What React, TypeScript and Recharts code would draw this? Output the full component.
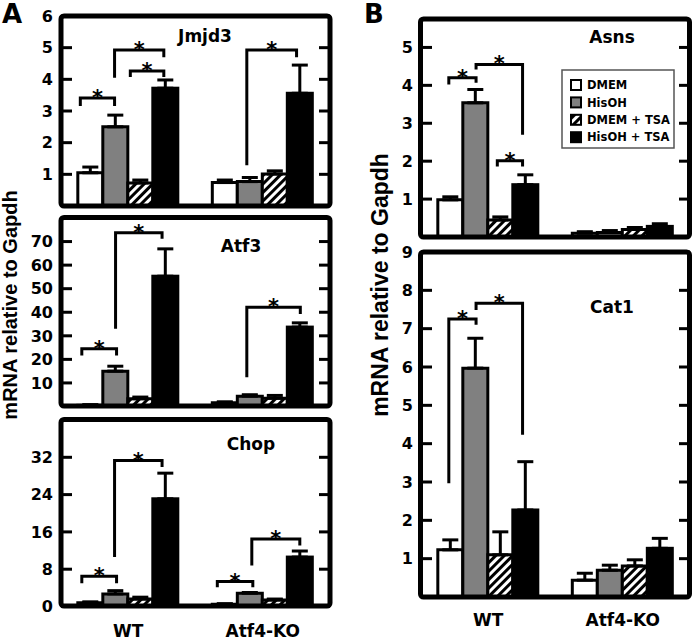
import React from 'react';
import { BarChart, Bar, XAxis, YAxis, ErrorBar } from 'recharts';

const groups = ['WT', 'Atf4-KO'];
const seriesNames = ['DMEM', 'HisOH', 'DMEM + TSA', 'HisOH + TSA'];
const seriesKeys = ['s0', 's1', 's2', 's3'];

// means per group (WT, Atf4-KO), series order as above; errs = upward error length
const jmjd3Means = [[1.05, 2.5, 0.73, 3.72], [0.74, 0.77, 1.01, 3.56]];
const jmjd3Errs = [[0.18, 0.37, 0.09, 0.26], [0.08, 0.13, 0.1, 0.89]];
const atf3Means = [[0.5, 15.0, 3.3, 55.3], [1.6, 4.4, 3.5, 33.7]];
const atf3Errs = [[0.3, 2.1, 0.7, 11.6], [0.4, 0.6, 1.2, 1.8]];
const chopMeans = [[0.8, 2.7, 1.6, 23.1], [0.5, 2.85, 1.4, 10.6]];
const chopErrs = [[0.2, 0.7, 0.4, 5.5], [0.1, 0.15, 0.2, 1.3]];
const asnsMeans = [[0.98, 3.54, 0.45, 1.38], [0.1, 0.12, 0.2, 0.28]];
const asnsErrs = [[0.08, 0.35, 0.08, 0.26], [0.04, 0.05, 0.05, 0.07]];
const cat1Means = [[1.23, 5.97, 1.1, 2.27], [0.44, 0.7, 0.81, 1.27]];
const cat1Errs = [[0.26, 0.78, 0.6, 1.26], [0.18, 0.13, 0.16, 0.26]];

const jmjd3Ticks = [1, 2, 3, 4, 5, 6];
const atf3Ticks = [10, 20, 30, 40, 50, 60, 70];
const chopTicks = [0, 8, 16, 24, 32];
const asnsTicks = [1, 2, 3, 4, 5];
const cat1Ticks = [1, 2, 3, 4, 5, 6, 7, 8, 9];

// significance brackets: group index, legs in bar slots (0..4 across the group), heights in data units
type Bracket = { group: number; from: number; to: number; top: number; l: number; r: number };
const jmjd3Brackets: Bracket[] = [
  { group: 0, from: 0.1, to: 1.47, top: 3.41, l: 3.16, r: 3.16 },
  { group: 0, from: 1.47, to: 3.44, top: 4.93, l: 4.05, r: 4.7 },
  { group: 0, from: 2.1, to: 3.44, top: 4.26, l: 4.07, r: 4.07 },
  { group: 1, from: 1.38, to: 3.37, top: 4.93, l: 1.29, r: 4.7 },
];
const atf3Brackets: Bracket[] = [
  { group: 0, from: 0.16, to: 1.55, top: 24.5, l: 21.6, r: 21.6 },
  { group: 0, from: 1.51, to: 3.37, top: 73.7, l: 33, r: 71.2 },
  { group: 1, from: 1.38, to: 3.52, top: 42.1, l: 12.4, r: 39.3 },
];
const chopBrackets: Bracket[] = [
  { group: 0, from: 0.16, to: 1.55, top: 6.5, l: 5.0, r: 5.0 },
  { group: 0, from: 1.47, to: 3.37, top: 31.3, l: 10.6, r: 29.9 },
  { group: 1, from: 0.2, to: 1.62, top: 5.36, l: 4.14, r: 4.14 },
  { group: 1, from: 1.58, to: 3.5, top: 14.5, l: 8.8, r: 13.1 },
];
const asnsBrackets: Bracket[] = [
  { group: 0, from: 0.44, to: 1.53, top: 4.2, l: 4.02, r: 4.07 },
  { group: 0, from: 1.53, to: 3.39, top: 4.55, l: 4.42, r: 2.7 },
  { group: 0, from: 2.38, to: 3.39, top: 2.01, l: 1.86, r: 1.86 },
];
const cat1Brackets: Bracket[] = [
  { group: 0, from: 0.44, to: 1.53, top: 7.25, l: 2.97, r: 7.1 },
  { group: 0, from: 1.53, to: 3.39, top: 7.66, l: 7.49, r: 4.23 },
];

const FONT = 'DejaVu Sans';
const fills = ['#fff', '#808080', 'url(#hatch)', '#000'];
const AXW = 40;
const PAD = 8;

function makeData(means: number[][], errs: number[][]) {
  return groups.map((g, i) => {
    const row: any = { group: g };
    seriesKeys.forEach((k, j) => {
      row[k] = means[i][j];
      row['e' + j] = [0, errs[i][j]];
    });
    return row;
  });
}

const lastShape = (brackets: Bracket[]) => (props: any) => {
  const { x, y, width, height, payload } = props;
  const v = payload.s3;
  const base = y + height;
  const k = height / v;
  const Y = (val: number) => base - val * k;
  const left = x - 3 * width;
  const X = (s: number) => left + s * width;
  const gi = groups.indexOf(payload.group);
  return (
    <g>
      <rect x={x} y={y} width={width} height={height} fill="#000" stroke="#000" strokeWidth={3} />
      {brackets.filter((b) => b.group === gi).map((b, i) => (
        <g key={i}>
          <path d={`M${X(b.from)},${Y(b.l)}V${Y(b.top)}H${X(b.to)}V${Y(b.r)}`} fill="none" stroke="#000" strokeWidth={3} />
          <text x={(X(b.from) + X(b.to)) / 2} y={Y(b.top) + 7} textAnchor="middle" fontFamily={FONT} fontWeight="bold" fontSize={21}>*</text>
        </g>
      ))}
    </g>
  );
};

type PanelProps = {
  means: number[][]; errs: number[][]; brackets: Bracket[];
  top: number; ticks: number[]; x: number; y: number; w: number; h: number; showX?: boolean; xdy?: number;
};

function Panel({ means, errs, brackets, top, ticks, x, y, w, h, showX, xdy = 29 }: PanelProps) {
  const data = makeData(means, errs);
  const xh = showX ? 34 : 0;
  return (
    <div style={{ position: 'absolute', left: x - AXW, top: y - PAD }}>
      <BarChart width={AXW + w + PAD} height={PAD + h + xh} data={data}
        margin={{ top: PAD, right: PAD, left: 0, bottom: 0 }} barCategoryGap="12.5%" barGap={0}>
        <XAxis dataKey="group" hide={!showX} height={xh} axisLine={false} tickLine={false} tickSize={0} tickMargin={0}
          tick={(p: any) => (
            <text x={p.x} y={p.y + xdy} textAnchor="middle" fontFamily={FONT} fontWeight="bold" fontSize={17}>{p.payload.value}</text>
          )} />
        <YAxis width={AXW} domain={[0, top]} ticks={ticks} interval={0} allowDataOverflow axisLine={false} tickLine={false}
          tickSize={0} tickMargin={0}
          tick={(p: any) => (
            <g>
              <line x1={p.x} x2={p.x + 11} y1={p.y} y2={p.y} stroke="#000" strokeWidth={3} />
              <line x1={p.x + w - 11} x2={p.x + w} y1={p.y} y2={p.y} stroke="#000" strokeWidth={3} />
              <text x={p.x - 8} y={p.y} dy="0.36em" textAnchor="end" fontFamily={FONT} fontWeight="bold" fontSize={16}>{p.payload.value}</text>
            </g>
          )} />
        {seriesKeys.map((k, j) => (
          <Bar key={k} dataKey={k} fill={fills[j]} stroke="#000" strokeWidth={3} isAnimationActive={false}
            shape={j === 3 ? lastShape(brackets) : undefined}>
            <ErrorBar dataKey={'e' + j} direction="y" width={8} stroke="#000" strokeWidth={3} isAnimationActive={false} />
          </Bar>
        ))}
      </BarChart>
    </div>
  );
}

const panels = [
  { key: 'jmjd3', title: 'Jmjd3', means: jmjd3Means, errs: jmjd3Errs, brackets: jmjd3Brackets, top: 6, ticks: jmjd3Ticks, x: 61, y: 16, w: 269, h: 190, tx: 144, ty: 26 },
  { key: 'atf3', title: 'Atf3', means: atf3Means, errs: atf3Errs, brackets: atf3Brackets, top: 80, ticks: atf3Ticks, x: 61, y: 217.5, w: 269, h: 188.5, tx: 180, ty: 34 },
  { key: 'chop', title: 'Chop', means: chopMeans, errs: chopErrs, brackets: chopBrackets, top: 40, ticks: chopTicks, x: 61, y: 419.5, w: 269, h: 186.5, tx: 190, ty: 30.5, showX: true, xdy: 30 },
  { key: 'asns', title: 'Asns', means: asnsMeans, errs: asnsErrs, brackets: asnsBrackets, top: 5.75, ticks: asnsTicks, x: 420.5, y: 19, w: 269, h: 218, tx: 191.5, ty: 24 },
  { key: 'cat1', title: 'Cat1', means: cat1Means, errs: cat1Errs, brackets: cat1Brackets, top: 9, ticks: cat1Ticks, x: 420.5, y: 252, w: 269, h: 345, tx: 191.5, ty: 61, showX: true, xdy: 29 },
];

export default function App() {
  return (
    <div style={{ position: 'absolute', left: 0, top: 0, width: 693, height: 640, background: '#fff', overflow: 'hidden' }}>
      <svg width={1} height={1} style={{ position: 'absolute', left: 0, top: 0 }}>
        <defs>
          <pattern id="hatch" patternUnits="userSpaceOnUse" width={6} height={6} patternTransform="rotate(45)">
            <rect width={6} height={6} fill="#fff" />
            <rect width={3} height={6} fill="#000" />
          </pattern>
        </defs>
      </svg>
      {panels.map((p) => (
        <Panel key={p.key} {...p} />
      ))}
      <svg width={693} height={640} style={{ position: 'absolute', left: 0, top: 0, pointerEvents: 'none' }}
        fontFamily={FONT} fontWeight="bold">
        {panels.map((p) => (
          <g key={p.key}>
            <rect x={p.x} y={p.y} width={p.w} height={p.h} rx={3} fill="none" stroke="#000" strokeWidth={5} />
            <text x={p.x + p.tx} y={p.y + p.ty} textAnchor="middle" fontSize={17}>{p.title}</text>
          </g>
        ))}
        <text x={2} y={23} fontSize={26}>A</text>
        <text x={364} y={23} fontSize={26}>B</text>
        <text transform="translate(17,305) rotate(-90)" textAnchor="middle" fontFamily="Liberation Sans" fontSize={20}>mRNA relative to Gapdh</text>
        <text transform="translate(388,285) rotate(-90)" textAnchor="middle" fontFamily="Liberation Sans" fontSize={23}>mRNA relative to Gapdh</text>
        <g>
          <rect x={562} y={70} width={112} height={78} fill="#fff" stroke="#555" strokeWidth={1.5} />
          {seriesNames.map((n, i) => (
            <g key={n}>
              <rect x={571} y={80 + i * 17.4} width={10} height={10} fill={fills[i]} stroke="#000" strokeWidth={2} />
              <text x={587} y={85 + i * 17.4} dy="0.36em" fontSize={11.5}>{n}</text>
            </g>
          ))}
        </g>
      </svg>
    </div>
  );
}
